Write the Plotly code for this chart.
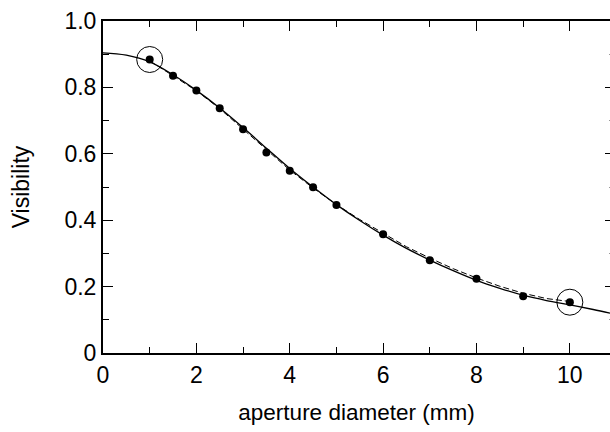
import plotly.graph_objects as go

# measured data points
x_pts = [1, 1.5, 2, 2.5, 3, 3.5, 4, 4.5, 5, 6, 7, 8, 9, 10]
y_pts = [0.884, 0.835, 0.791, 0.737, 0.674, 0.604, 0.549, 0.499, 0.446, 0.358, 0.279, 0.224, 0.171, 0.153]

# solid fitted curve
x_fit = [0, 0.5, 1, 1.5, 2, 2.5, 3, 3.5, 4, 4.5, 5, 5.5, 6, 6.5, 7, 7.5, 8, 8.5, 9, 9.5, 10, 10.5, 10.86]
y_fit = [0.904, 0.897, 0.877, 0.838, 0.791, 0.738, 0.679, 0.617, 0.556, 0.500, 0.447, 0.399, 0.355, 0.315, 0.280, 0.248, 0.219, 0.195, 0.174, 0.158, 0.145, 0.131, 0.120]

# dashed curve
x_dash = [1, 1.5, 2, 2.5, 3, 3.5, 4, 4.5, 5, 5.5, 6, 6.5, 7, 7.5, 8, 8.5, 9, 9.5, 10]
y_dash = [0.880, 0.836, 0.790, 0.736, 0.674, 0.610, 0.551, 0.497, 0.447, 0.402, 0.360, 0.320, 0.286, 0.254, 0.226, 0.201, 0.180, 0.164, 0.155]

# highlighted points
x_hi = [1, 10]
y_hi = [0.884, 0.153]

x_ticks = [0, 2, 4, 6, 8, 10]
x_ticktext = ["0", "2", "4", "6", "8", "10"]
y_ticks = [0, 0.2, 0.4, 0.6, 0.8, 1.0]
y_ticktext = ["0", "0.2", "0.4", "0.6", "0.8", "1.0"]

FONT = "Liberation Sans, Arial, sans-serif"

fig = go.Figure()
fig.add_trace(go.Scatter(x=x_dash, y=y_dash, mode="lines",
                         line=dict(color="black", width=1, dash="6px,3px"),
                         hoverinfo="skip", showlegend=False))
fig.add_trace(go.Scatter(x=x_fit, y=y_fit, mode="lines",
                         line=dict(color="black", width=1.3, shape="spline"),
                         hoverinfo="skip", showlegend=False))
fig.add_trace(go.Scatter(x=x_pts, y=y_pts, mode="markers",
                         marker=dict(color="black", size=8),
                         showlegend=False))
fig.add_trace(go.Scatter(x=x_hi, y=y_hi, mode="markers",
                         marker=dict(symbol="circle-open", color="black", size=26,
                                     line=dict(width=1, color="black")),
                         showlegend=False))
fig.add_trace(go.Scatter(x=[None], y=[None], yaxis="y2", showlegend=False, hoverinfo="skip"))

fig.update_layout(
    width=610, height=432,
    margin=dict(l=103, r=0, t=21, b=79, autoexpand=False),
    paper_bgcolor="white", plot_bgcolor="white",
    font=dict(family=FONT, size=23, color="black"),
    xaxis=dict(
        range=[0, 10.86], tickvals=x_ticks, ticktext=x_ticktext,
        showgrid=False, zeroline=False, automargin=False,
        showline=True, linecolor="black", linewidth=2, mirror="ticks",
        ticks="inside", ticklen=10, tickwidth=1, tickcolor="black",
        minor=dict(dtick=1, ticks="inside", ticklen=6, tickwidth=1, tickcolor="black", showgrid=False),
        tickfont=dict(size=23),
        title=dict(text="aperture diameter (mm)", font=dict(size=22.5), standoff=18),
    ),
    yaxis=dict(
        range=[0, 1.0], tickvals=y_ticks, ticktext=y_ticktext,
        showgrid=False, zeroline=False, automargin=False,
        showline=True, linecolor="black", linewidth=2,
        ticks="inside", ticklen=10, tickwidth=1, tickcolor="black",
        minor=dict(dtick=0.1, ticks="inside", ticklen=6, tickwidth=1, tickcolor="black", showgrid=False),
        tickfont=dict(size=23),
        title=dict(text="Visibility", font=dict(size=23), standoff=28),
    ),
    yaxis2=dict(
        range=[0, 1.0], overlaying="y", side="right", anchor="x",
        tickvals=y_ticks, showticklabels=False, automargin=False,
        showgrid=False, zeroline=False, showline=False,
        ticks="inside", ticklen=5, tickwidth=1, tickcolor="black",
        minor=dict(dtick=0.1, ticks="inside", ticklen=1, tickwidth=1, tickcolor="#999", showgrid=False),
    ),
)

# remove the default 8px page margin so the 610x432 figure fills the window exactly
fig.write_html("out.html", config={"displayModeBar": False},
               post_script="document.body.style.margin='0';")
